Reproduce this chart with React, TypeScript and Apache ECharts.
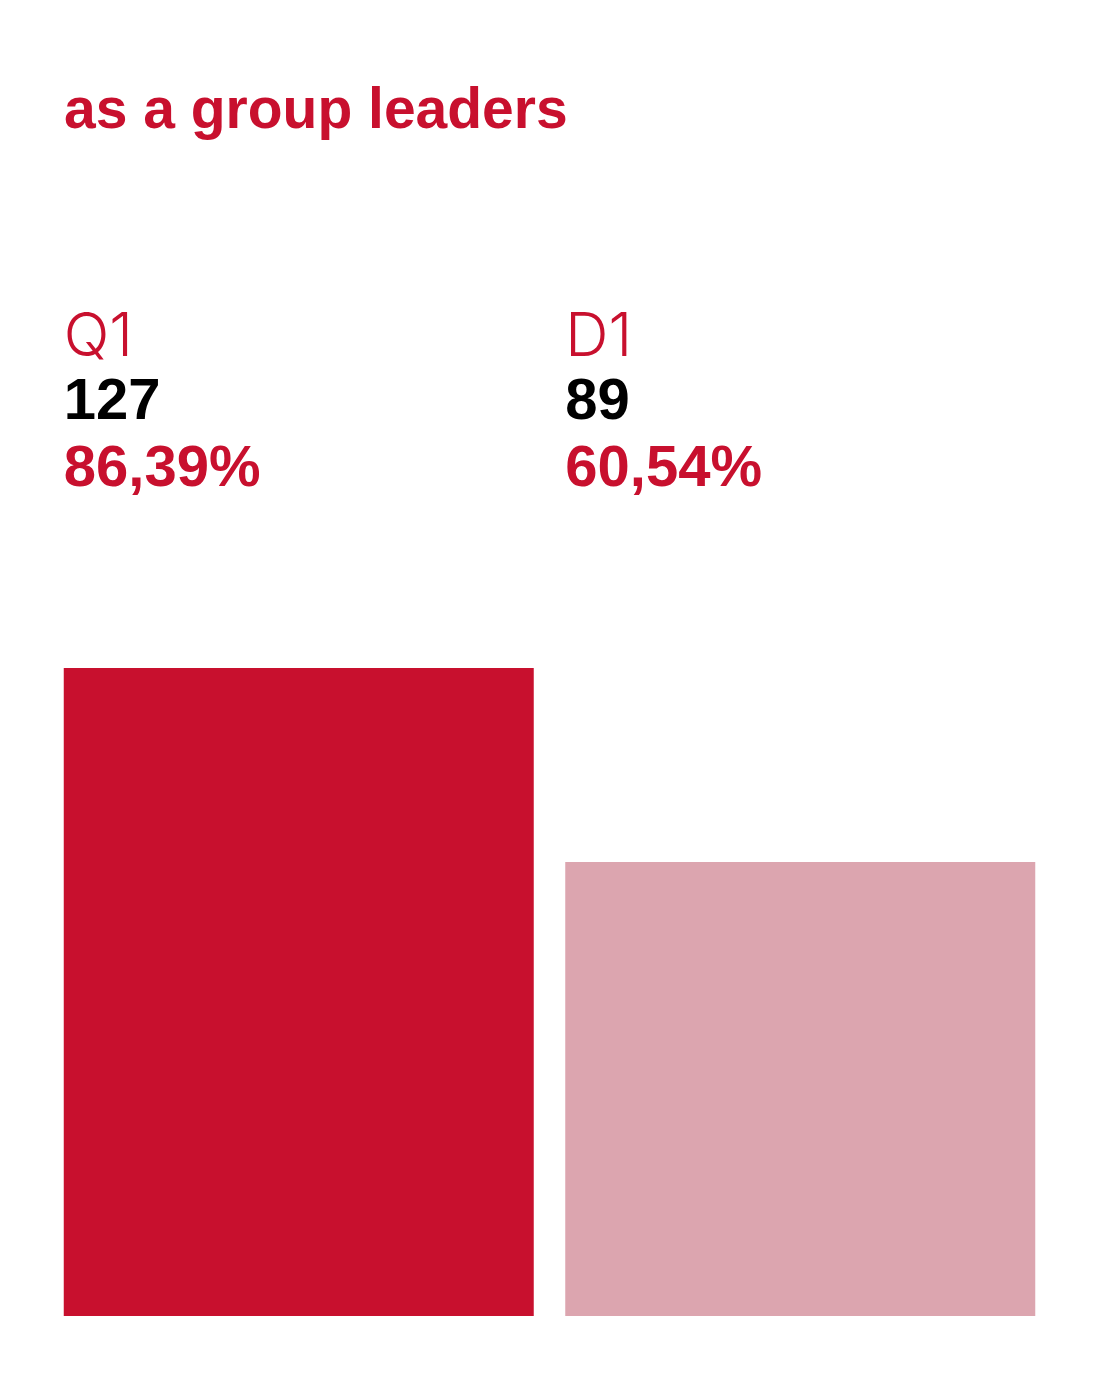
import {useEffect, useRef} from "react";
import * as echarts from "echarts";

const title = "as a group leaders";
const categories = ["Q1", "D1"];
const counts = [127, 89];
const shares = [86.39, 60.54];
const barColors = ["#C8102E", "#DCA5AF"];

const RED = "#C8102E";
const BOLD = "'Liberation Sans', Arial, sans-serif";
const LIGHT = "Inter, 'Liberation Sans', sans-serif";

function pct(v: number): string {
    return v.toFixed(2).replace(".", ",") + "%";
}

export default function App() {
    const domRef = useRef<HTMLDivElement>(null);

    useEffect(() => {
        document.body.style.margin = "0";
        if (!domRef.current) return;
        const chart = echarts.init(domRef.current, null, {renderer: "svg"});
        chart.setOption({
            animation: false,
            grid: {left: 48, right: 48, top: 668, bottom: 64},
            xAxis: {
                type: "category",
                data: categories,
                axisLine: {show: false},
                axisTick: {show: false},
                axisLabel: {show: false},
            },
            yAxis: {type: "value", min: 0, max: shares[0], show: false, splitLine: {show: false}},
            series: [{
                type: "bar",
                barWidth: 470,
                data: shares.map((v, i) => ({value: v, itemStyle: {color: barColors[i]}})),
            }],
        });

        // header and per-bar labels, x taken from the category axis
        const texts: any[] = [{
            type: "text",
            x: 64,
            y: 79,
            style: {text: title, fill: RED, font: `700 57px ${BOLD}`},
        }];
        categories.forEach((c, i) => {
            const x = (chart.convertToPixel({xAxisIndex: 0}, c) as number) - 235;
            texts.push(
                {type: "text", x, y: 304, style: {text: c, fill: RED, font: `300 60px ${LIGHT}`}},
                {type: "text", x, y: 369, style: {text: String(counts[i]), fill: "#000", font: `700 58px ${BOLD}`}},
                {type: "text", x, y: 436, style: {text: pct(shares[i]), fill: RED, font: `700 58px ${BOLD}`}},
            );
        });
        chart.setOption({graphic: texts});

        return () => chart.dispose();
    }, []);

    return <div ref={domRef} style={{width: 1099, height: 1380}} />;
}
